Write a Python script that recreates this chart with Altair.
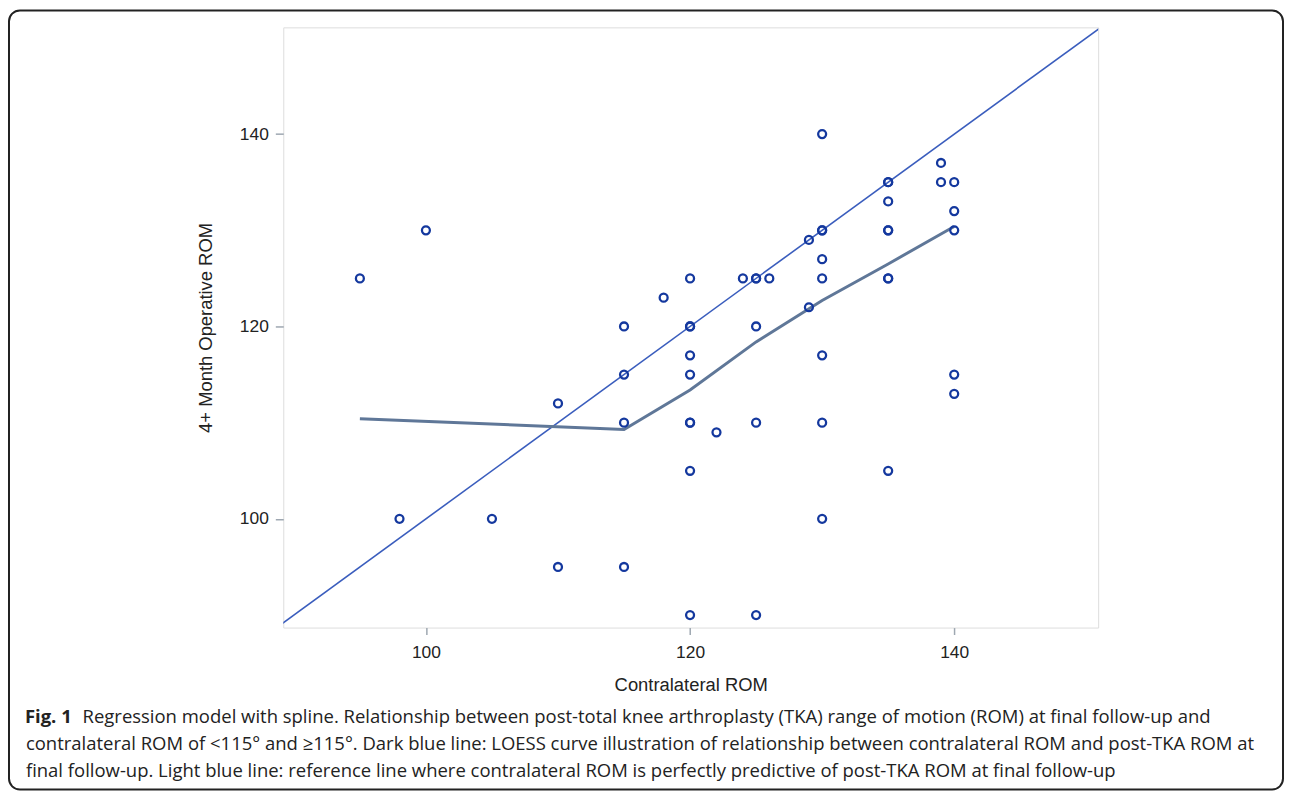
import altair as alt
import pandas as pd

# Scatter data: contralateral ROM (x) vs 4+ month operative ROM (y)
contra_rom = [95, 100, 98, 105, 110, 110, 115, 115, 115, 115, 118,
              120, 120, 120, 120, 120, 120, 120, 120, 120, 122,
              124, 125, 125, 126, 125, 125, 125,
              129, 129, 130, 130, 130, 130, 130, 130, 130, 130,
              135, 135, 135, 135, 135, 135, 135, 135,
              139, 139, 140, 140, 140, 140, 140]
operative_rom = [125, 130, 100, 100, 112, 95, 120, 115, 110, 95, 123,
                 125, 120, 120, 117, 115, 110, 110, 105, 90, 109,
                 125, 125, 125, 125, 120, 110, 90,
                 129, 122, 140, 130, 127, 125, 117, 110, 100, 130,
                 135, 135, 133, 130, 125, 125, 105, 130,
                 137, 135, 135, 132, 130, 115, 113]

# LOESS / spline curve
loess_x = [95, 115, 120, 125, 130, 135, 140]
loess_y = [110.4, 109.3, 113.4, 118.4, 122.7, 126.5, 130.4]

# Reference line y = x
ref_x = [85, 155]
ref_y = [85, 155]

x_ticks = [100, 120, 140]
y_ticks = [100, 120, 140]
x_domain = [89.2, 150.9]
y_domain = [88.7, 151.1]

caption_bold = "Fig. 1"
caption_lines = [
    "Regression model with spline. Relationship between post-total knee arthroplasty (TKA) range of motion (ROM) at final follow-up and",
    "contralateral ROM of <115° and ≥115°. Dark blue line: LOESS curve illustration of relationship between contralateral ROM and post-TKA ROM at",
    "final follow-up. Light blue line: reference line where contralateral ROM is perfectly predictive of post-TKA ROM at final follow-up",
]

pts = pd.DataFrame({"x": contra_rom, "y": operative_rom})
loess = pd.DataFrame({"x": loess_x, "y": loess_y})
ref = pd.DataFrame({"x": ref_x, "y": ref_y})

AXIS_GREY = "#9ea7b1"
xs = alt.Scale(domain=x_domain, nice=False, zero=False)
ys = alt.Scale(domain=y_domain, nice=False, zero=False)

x_axis = alt.Axis(values=x_ticks, title="Contralateral ROM", grid=False, domain=False,
                  tickSize=7, tickColor=AXIS_GREY, tickWidth=1.5, labelPadding=9,
                  labelFontSize=17.5, labelColor="#222", labelFont="Liberation Sans",
                  titleFontSize=18.5, titleFontWeight="normal", titleColor="#222",
                  titleFont="Liberation Sans", titlePadding=15, labelFlush=False)
y_axis = alt.Axis(values=y_ticks, title="4+ Month Operative ROM", grid=False, domain=False,
                  tickSize=8, tickColor=AXIS_GREY, tickWidth=1.5, labelPadding=7,
                  labelFontSize=17.5, labelColor="#222", labelFont="Liberation Sans",
                  titleFontSize=18.5, titleFontWeight="normal", titleColor="#222",
                  titleFont="Liberation Sans", titlePadding=24, labelFlush=False)

ref_line = alt.Chart(ref).mark_line(color="#3a5dbd", strokeWidth=1.6, clip=True).encode(
    x=alt.X("x:Q", scale=xs, axis=x_axis),
    y=alt.Y("y:Q", scale=ys, axis=y_axis),
)

loess_line = alt.Chart(loess).mark_line(color="#5f7798", strokeWidth=3).encode(
    x=alt.X("x:Q", scale=xs), y=alt.Y("y:Q", scale=ys)
)

points = alt.Chart(pts).mark_point(shape="circle", filled=False, size=64, strokeWidth=2.3,
                                   color="#14389e", opacity=1).encode(
    x=alt.X("x:Q", scale=xs), y=alt.Y("y:Q", scale=ys)
)

one = pd.DataFrame({"a": [0]})

# Outer figure frame
frame = alt.Chart(one).mark_rect(fill=None, stroke="#222", strokeWidth=2, cornerRadius=11,
                                 clip=False).encode(
    x=alt.value(-276), x2=alt.value(1006), y=alt.value(-17), y2=alt.value(767)
)

CAP_FONT = "Open Sans"
CAP_SIZE = 18.6
base_y = [700, 727, 754]
fig_label = alt.Chart(one).mark_text(align="left", baseline="alphabetic", font=CAP_FONT,
                                     fontSize=CAP_SIZE, fontWeight="bold", color="#222").encode(
    x=alt.value(-260), y=alt.value(base_y[0]), text=alt.value(caption_bold)
)
cap_layers = []
offsets = [-202, -259, -259]
for i, line in enumerate(caption_lines):
    cap_layers.append(
        alt.Chart(one).mark_text(align="left", baseline="alphabetic", font=CAP_FONT,
                                 fontSize=CAP_SIZE, color="#222").encode(
            x=alt.value(offsets[i]), y=alt.value(base_y[i]), text=alt.value(line)
        )
    )

chart = alt.layer(ref_line, loess_line, points, frame, fig_label, *cap_layers).properties(
    width=820, height=604,
    autosize=alt.AutoSizeParams(type="none"),
    padding={"left": 277, "top": 17, "right": 187, "bottom": 162},
).configure_view(stroke=AXIS_GREY, strokeWidth=1.5).configure(background="white")

chart.save("out.html", embed_options={"renderer": "svg", "actions": False})
